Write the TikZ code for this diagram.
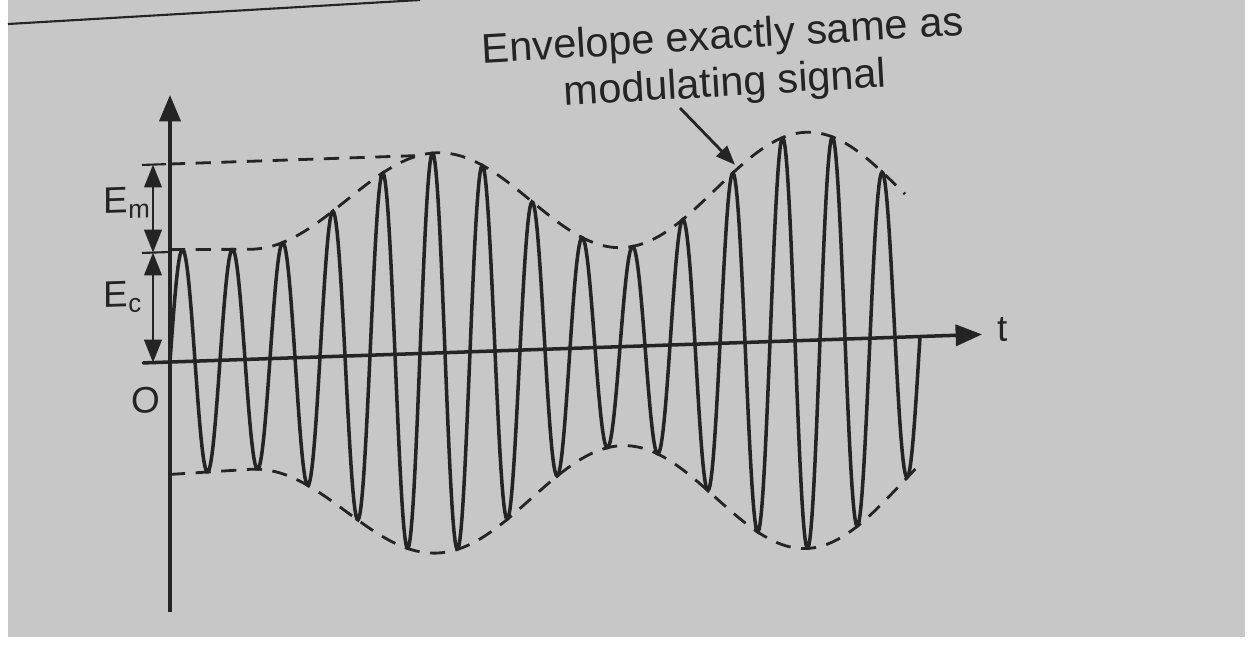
\documentclass[tikz,border=0pt]{standalone}
\usepackage{fontspec}
\setmainfont{Liberation Sans}
\usetikzlibrary{arrows.meta}
\definecolor{paper}{gray}{0.78}
\definecolor{ink}{gray}{0.14}
\begin{document}
\begin{tikzpicture}[x=0.01cm, y=-0.01cm,
    axis/.style={ink, line width=1pt, -{Triangle[length=7.5pt,width=6pt]}},
    envelope/.style={ink, line width=0.8pt, dash pattern=on 4.3pt off 3pt},
    dimline/.style={ink, line width=0.6pt, {Triangle[length=6.5pt,width=5pt]}-{Triangle[length=6.5pt,width=5pt]}},
    carrier/.style={ink, line width=1pt},
    lbl/.style={font=\fontsize{10.5}{12}\selectfont, text=ink, inner sep=0pt},
    % envelope, slowly growing towards the right as in the print
    declare function={env(\s)=153.4-0.00405*\s-(41+0.0257*\s)*cos(0.973*max(\s-80,0));}
  ]
  \def\Ec{110}
  \def\Em{88}
  \fill[white] (0,0) rectangle (1252,645);
  \fill[paper] (8,0) rectangle (1245,637);
  \useasboundingbox (0,0) rectangle (1252,645);
  \draw[ink, line width=0.6pt] (8,24) -- (420,0);

  % annotation
  \node[text=ink, inner sep=0pt, align=center, rotate=3.3,
        font=\fontsize{11.8}{13.4}\selectfont] (note) at (724,62)
        {Envelope exactly same as\\modulating signal};

  \begin{scope}[shift={(170,362)}, y=0.01cm, yslant=0.034,
                every node/.append style={transform shape}]
    \draw[axis] (0,-250) -- (0,267);
    \draw[axis] (-27,0) -- (812,0);
    \node[lbl, anchor=base west] (tlbl) at (827,-8) {t};
    \node[lbl] (olbl) at (-24,-37) {O};

    \foreach \n/\h/\e in {emtop/\Ec+\Em/-4, ecmid/\Ec/0, ecbot/0/0}{
      \coordinate (\n) at (-17,\h);
      \draw[ink, line width=0.6pt] (-28,\h) -- (\e,\h);
    }
    \draw[dimline] (emtop) -- (ecmid);
    \draw[dimline] (ecmid) -- (ecbot);
    \node[lbl, anchor=base west] (emlbl) at (-67,151) {E\textsubscript{m}};
    \node[lbl, anchor=base west] (eclbl) at (-67,57) {E\textsubscript{c}};

    \draw[envelope] (0,\Ec+\Em) -- (245,\Ec+\Em);
    \draw[envelope] plot[domain=0:735, samples=150] (\x,{env(\x)});
    \draw[envelope] plot[domain=0:748, samples=150] (\x,{-env(\x)});
    \draw[carrier] plot[domain=0:750, samples=751] (\x,{env(\x)*sin(7.2*\x)});

    \coordinate (tip) at (565,178);
  \end{scope}

  \coordinate (tail) at (680,108);
  \draw[ink, line width=0.8pt, -{Triangle[length=5.5pt,width=4.2pt]}] (tail) -- (tip);
\end{tikzpicture}
\end{document}
